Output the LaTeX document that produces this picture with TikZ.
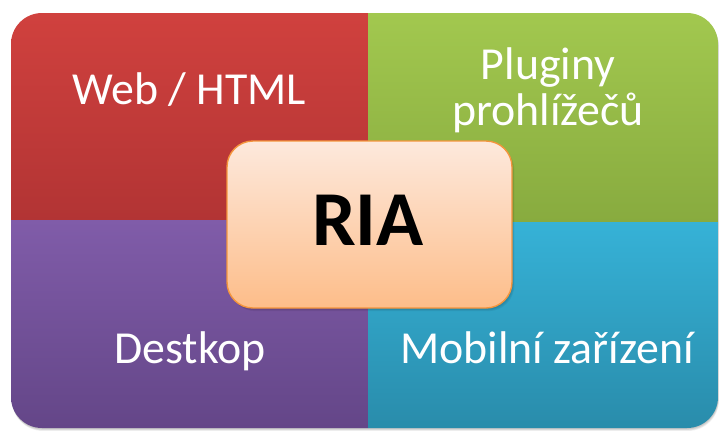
\documentclass[tikz,border=0pt]{standalone}
\usepackage{fontspec}
\setmainfont{Carlito}
\definecolor{redtop}{HTML}{D0413E}
\definecolor{redbot}{HTML}{B23434}
\definecolor{greentop}{HTML}{A2C84F}
\definecolor{greenbot}{HTML}{88AB3F}
\definecolor{purpletop}{HTML}{805CA9}
\definecolor{purplebot}{HTML}{644688}
\definecolor{bluetop}{HTML}{36B2D7}
\definecolor{bluebot}{HTML}{298CAB}
\definecolor{coretop}{HTML}{FDE9DD}
\definecolor{corebot}{HTML}{FDBD89}
\definecolor{coreline}{HTML}{F4953D}
\tikzset{
  label/.style={text=white, font=\fontsize{46}{47}\selectfont, align=center, inner sep=0pt},
  core/.style={rounded corners=26bp, top color=coretop, bottom color=corebot,
               draw=coreline, line width=1.4bp}
}
\begin{document}
\begin{tikzpicture}[x=1bp, y=-1bp]
\useasboundingbox (0,0) rectangle (719,430);
\fill[white] (0,0) rectangle (719,430);
% soft shadow under the matrix
\foreach \k in {1,...,5}
  \fill[black, opacity=0.05] (11+\k*0.2,13+\k*0.6) [rounded corners=31bp] rectangle (718+\k*0.2,428+\k*0.6);
% four quadrants clipped to one rounded outline
\begin{scope}
  \clip[rounded corners=31bp] (11,13) rectangle (718,428);
  \shade[top color=redtop, bottom color=redbot] (11,13) rectangle (368,220);
  \shade[top color=greentop, bottom color=greenbot] (368,13) rectangle (718,222);
  \shade[top color=purpletop, bottom color=purplebot] (11,220) rectangle (368,428);
  \shade[top color=bluetop, bottom color=bluebot] (368,222) rectangle (718,428);
\end{scope}
\node[label, anchor=base] (web) at (189,104) {Web / HTML};
\node[label, anchor=base] (plug) at (548,79) {Pluginy};
\node[label, anchor=base] (prohl) at (548,125) {prohlížečů};
\node[label, anchor=base] (desk) at (190,363) {Destkop};
\node[label, anchor=base] (mob) at (547,363) {Mobilní zařízení};
% central box with its shadow
\foreach \k in {1,...,4}
  \fill[black, opacity=0.05, rounded corners=26bp] (227+\k*0.6,141+\k*0.8) rectangle (512+\k*0.6,308+\k*0.8);
\path[core] (227,141) rectangle (512,308);
\node[font=\fontsize{78}{80}\selectfont\bfseries, anchor=base, inner sep=0pt] (ria) at (368,245) {RIA};
\end{tikzpicture}
\end{document}
